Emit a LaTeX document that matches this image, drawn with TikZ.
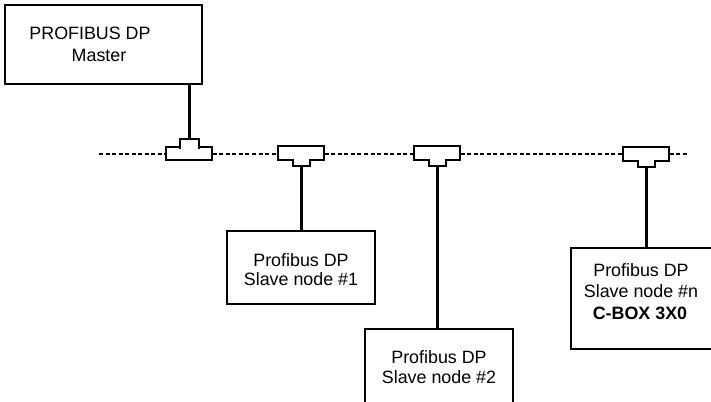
\documentclass[tikz,border=0pt]{standalone}
\usepackage{fontspec}
\setmainfont{Liberation Sans}
\usetikzlibrary{fit}
\begin{document}
\begin{tikzpicture}[x=0.75pt,y=-0.75pt,
  box/.style={draw, line width=0.9pt, inner sep=0pt},
  tapbody/.style={draw, line width=1.2pt, fill=white, inner sep=0pt},
  tapneck/.style={draw, line width=1.2pt, fill=white},
  stem/.style={line width=2.1pt},
  mstem/.style={line width=1.6pt},
  bus/.style={line width=1.4pt, dash pattern=on 3pt off 1.9pt},
  txt/.style={anchor=base, inner sep=0pt, font=\fontsize{13.4}{15}\selectfont}]
\useasboundingbox (0,0) rectangle (711,401);
\clip (0,0) rectangle (711,401);
% boxes
\node[box, fit={(5,5) (202,84)}] (m) {};
\node[box, fit={(227,231) (375,304)}] (s1) {};
\node[box, fit={(365,329) (513,412)}] (s2) {};
\node[box, fit={(571,248) (724,349)}] (sn) {};
% texts
\node[txt] (mt1) at (90,39) {PROFIBUS DP};
\node[txt] (mt2) at (99,61) {Master};
\node[txt] (s1t1) at (301,266) {Profibus DP};
\node[txt] (s1t2) at (301,285) {Slave node \#1};
\node[txt] (s2t1) at (439,363) {Profibus DP};
\node[txt] (s2t2) at (439,383) {Slave node \#2};
\node[txt] (snt1) at (641,276) {Profibus DP};
\node[txt] (snt2) at (641,297) {Slave node \#n};
\node[txt] (snt3) at (640,319) {\bfseries C-BOX 3X0};
% bus end points
\coordinate (busL) at (99,154);
\coordinate (busR) at (687,154);
% taps
\node[tapbody, fit={(166,147) (212,160)}] (t0) {};
\node[tapbody, fit={(278,146) (324,160)}] (t1) {};
\node[tapbody, fit={(414,146) (460,160)}] (t2) {};
\node[tapbody, fit={(623,147) (669,161)}] (tn) {};
\filldraw[tapneck] (180,148.5) -- (180,139) -- (199,139) -- (199,148.5);
\filldraw[tapneck] (293,158.5) -- (293,166) -- (310,166) -- (310,158.5);
\filldraw[tapneck] (429,158.5) -- (429,166) -- (446,166) -- (446,158.5);
\filldraw[tapneck] (638,159.5) -- (638,167) -- (655,167) -- (655,159.5);
\coordinate (c0) at (189.5,139);
\coordinate (c1) at (301.5,166);
\coordinate (c2) at (437.5,166);
\coordinate (cn) at (646.5,167);
% bus
\draw[bus] (busL) -- (busL -| t0.west);
\draw[bus] (busL -| t0.east) -- (busL -| t1.west);
\draw[bus] (busL -| t1.east) -- (busL -| t2.west);
\draw[bus] (busL -| t2.east) -- (busL -| tn.west);
\draw[bus] (busL -| tn.east) -- (busR);
% stems
\draw[mstem] (c0 |- m.south) -- (c0);
\draw[stem] (c1) -- (c1 |- s1.north);
\draw[stem] (c2) -- (c2 |- s2.north);
\draw[stem] (cn) -- (cn |- sn.north);
\end{tikzpicture}
\end{document}
